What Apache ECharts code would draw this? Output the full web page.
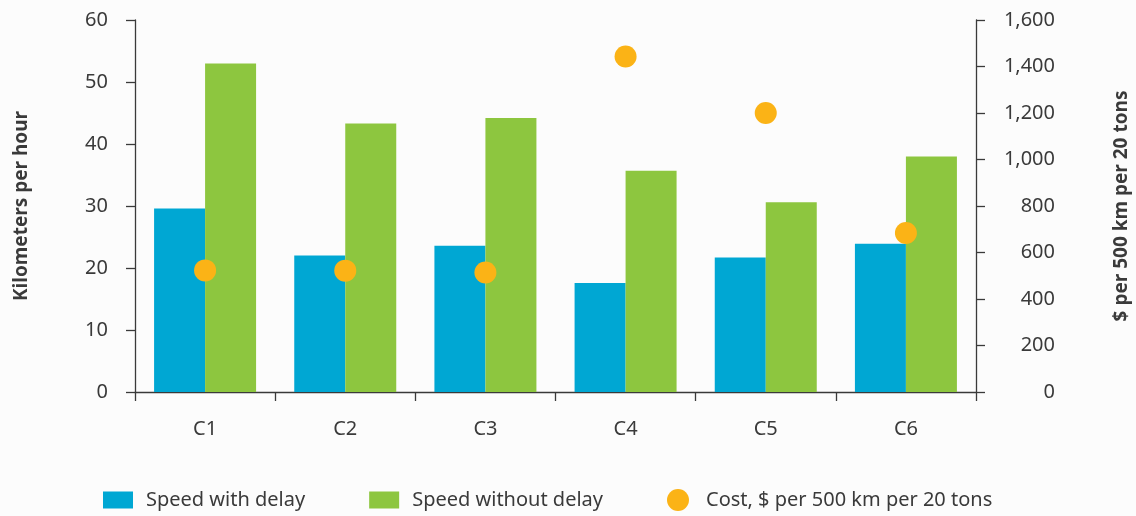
<!DOCTYPE html>
<html>
<head>
<meta charset="utf-8">
<script src="https://cdn.jsdelivr.net/npm/echarts@6/dist/echarts.min.js"></script>
<style>
html,body{margin:0;padding:0;background:#fcfcfc;}
#chart{width:1136px;height:516px;}
</style>
</head>
<body>
<div id="chart"></div>
<script>
var categories = ['C1', 'C2', 'C3', 'C4', 'C5', 'C6'];
var speedWithDelay = [29.6, 22.0, 23.6, 17.6, 21.7, 23.9];
var speedWithoutDelay = [53.0, 43.3, 44.2, 35.7, 30.6, 38.0];
var cost = [523, 522, 514, 1443, 1200, 684];
var seriesNames = ['Speed with delay', 'Speed without delay', 'Cost, $ per 500 km per 20 tons'];

var FONT = '"Noto Sans", "Open Sans", sans-serif';
var TXT = '#3a3a3a';
var AX = '#3a3a3a';

var chart = echarts.init(document.getElementById('chart'), null, {renderer: 'canvas'});
chart.setOption({
  backgroundColor: '#fcfcfc',
  animation: false,
  textStyle: {fontFamily: FONT},
  grid: {left: 135, right: 160, top: 20, bottom: 124, outerBoundsMode: 'none'},
  legend: {
    left: 98, top: 484,
    itemWidth: 30, itemHeight: 22, itemGap: 64,
    textStyle: {fontFamily: FONT, fontSize: 20, color: TXT, padding: [0, 0, 0, 8]},
    data: [
      {name: seriesNames[0], icon: 'path://M0,0 h30 v17 h-30z'},
      {name: seriesNames[1], icon: 'path://M0,0 h30 v17 h-30z'},
      {name: seriesNames[2], icon: 'circle'}
    ]
  },
  xAxis: {
    type: 'category',
    data: categories,
    axisLine: {lineStyle: {color: AX, width: 1.3}},
    axisTick: {show: true, length: 9, lineStyle: {color: AX, width: 1.3}},
    axisLabel: {color: TXT, fontSize: 20, margin: 27, fontFamily: FONT}
  },
  yAxis: [
    {
      type: 'value', min: 0, max: 60, interval: 10,
      name: 'Kilometers per hour', nameLocation: 'middle', nameRotate: 90, nameGap: 104,
      nameTextStyle: {fontFamily: FONT, fontSize: 19, fontWeight: 'bold', color: TXT},
      axisLine: {show: true, lineStyle: {color: AX, width: 1.3}},
      axisTick: {show: true, length: 9, lineStyle: {color: AX, width: 1.3}},
      splitLine: {show: false},
      axisLabel: {color: TXT, fontSize: 20, margin: 27, fontFamily: FONT}
    },
    {
      type: 'value', min: 0, max: 1600, interval: 200, position: 'right',
      name: '$ per 500 km per 20 tons', nameLocation: 'middle', nameRotate: 90, nameGap: 136,
      nameTextStyle: {fontFamily: FONT, fontSize: 19, fontWeight: 'bold', color: TXT},
      axisLine: {show: true, lineStyle: {color: AX, width: 1.3}},
      axisTick: {show: true, length: 9, lineStyle: {color: AX, width: 1.3}},
      splitLine: {show: false},
      axisLabel: {
        color: TXT, fontSize: 20, margin: 79, align: 'right', fontFamily: FONT,
        formatter: function (v) { return v.toLocaleString('en-US'); }
      }
    }
  ],
  series: [
    {
      name: seriesNames[0], type: 'bar', data: speedWithDelay,
      barWidth: 51, barGap: '0%',
      itemStyle: {color: '#00A7D3'}
    },
    {
      name: seriesNames[1], type: 'bar', data: speedWithoutDelay,
      barWidth: 51, barGap: '0%',
      itemStyle: {color: '#8DC63F'}
    },
    {
      name: seriesNames[2], type: 'scatter', yAxisIndex: 1, data: cost,
      symbolSize: 22, z: 5,
      itemStyle: {color: '#FBB316', opacity: 1}
    }
  ]
});
</script>
</body>
</html>
